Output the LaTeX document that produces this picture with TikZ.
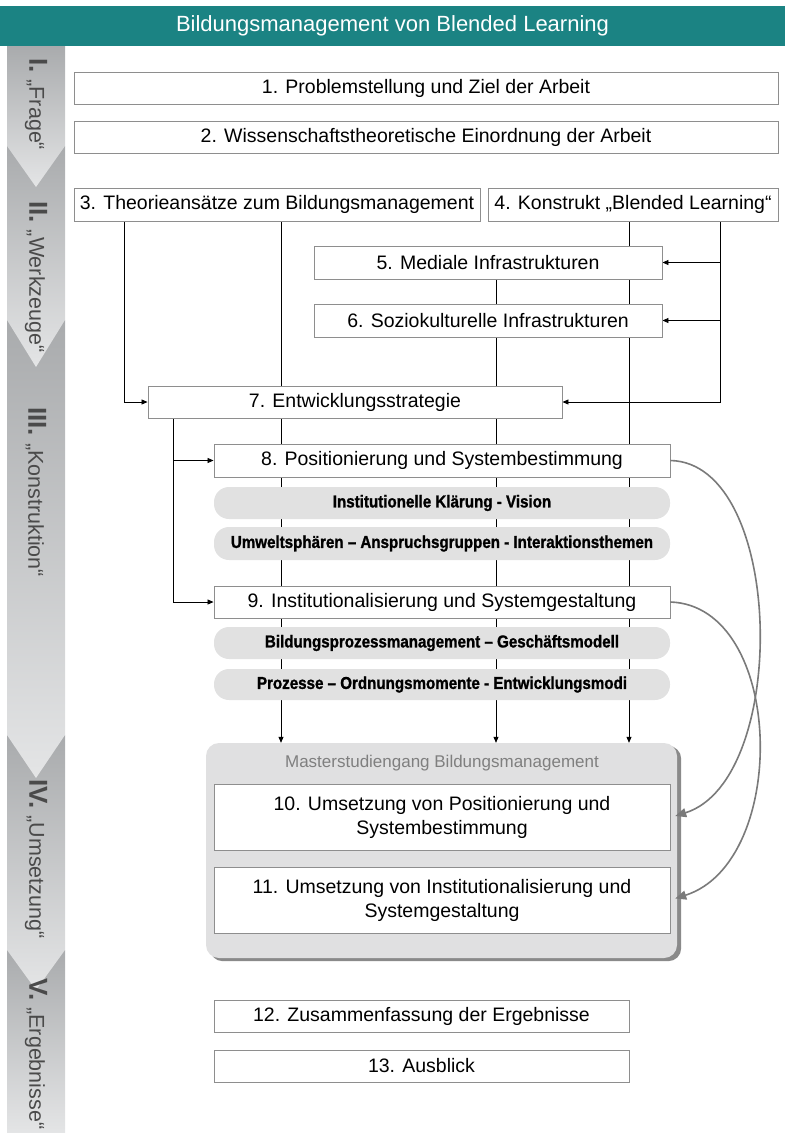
\documentclass[tikz,border=0pt]{standalone}
\usepackage{fontspec}
\setmainfont{Liberation Sans}
\newfontfamily\pillfont{Liberation Sans}[FakeStretch=0.88,BoldFeatures={FakeBold=1.2}]
\usetikzlibrary{arrows.meta,calc}
\pgfdeclarelayer{bg}
\pgfsetlayers{bg,main}
\definecolor{titleteal}{HTML}{1B8383}
\definecolor{boxgray}{HTML}{8E8E8E}
\definecolor{pillgray}{HTML}{E1E1E1}
\definecolor{mastergray}{HTML}{E0E0E1}
\definecolor{shadowgray}{HTML}{8A8A8A}
\definecolor{curvegray}{HTML}{7A7A7A}
\definecolor{stripdark}{HTML}{A9ABAD}
\definecolor{striplight}{HTML}{E4E5E6}
\definecolor{striptext}{HTML}{4A4A4A}
\definecolor{mtgray}{HTML}{7F7F7F}
\begin{document}
\begin{tikzpicture}[x=1pt,y=-1pt,
  box/.style={draw=boxgray,line width=0.9pt,fill=white,inner sep=0pt,font=\fontsize{19.5}{24}\selectfont,align=center},
  pill/.style={fill=pillgray,rounded corners=15pt,inner sep=0pt,font=\pillfont\fontsize{17.2}{18}\selectfont\bfseries},
  conn/.style={line width=0.8pt,black},
  arr/.style={conn,-{Triangle[length=6pt,width=5pt]}},
  curvearr/.style={line width=1.6pt,curvegray,-{Triangle[length=11pt,width=9pt]}},
  stripsec/.style={top color=stripdark,bottom color=striplight,draw=none},
  striplabel/.style={rotate=-90,anchor=west,text=striptext,inner sep=0pt,font=\fontsize{21.5}{22}\selectfont}]
\useasboundingbox (0,0) rectangle (785,1133);

% title bar
\node[fill=titleteal,minimum width=785pt,minimum height=40pt,inner sep=0pt,text=white,font=\fontsize{22}{22}\selectfont] (title) at (392.5,26) {Bildungsmanagement von Blended Learning};

% left strip (sections drawn bottom-up so each chevron overlays the next section)
\shade[stripsec] (7,950) rectangle (65,1133);
\shade[stripsec] (7,735) -- (65,735) -- (65,950) -- (36,990) -- (7,950) -- cycle;
\shade[stripsec] (7,320) -- (65,320) -- (65,735) -- (36,778) -- (7,735) -- cycle;
\shade[stripsec] (7,146) -- (65,146) -- (65,320) -- (36,367) -- (7,320) -- cycle;
\shade[stripsec] (7,46) -- (65,46) -- (65,146) -- (36,187) -- (7,146) -- cycle;

\node[striplabel] (s1) at (36,58) {{\fontsize{26}{26}\selectfont\bfseries I.}\hspace{7pt}„Frage“};
\node[striplabel] (s2) at (36,201) {{\fontsize{26}{26}\selectfont\bfseries II.}\hspace{7pt}„Werkzeuge“};
\node[striplabel] (s3) at (36,407) {{\fontsize{26}{26}\selectfont\bfseries III.}\hspace{7pt}„Konstruktion“};
\node[striplabel] (s4) at (36,779) {{\fontsize{26}{26}\selectfont\bfseries IV.}\hspace{7pt}„Umsetzung“};
\node[striplabel] (s5) at (36,978) {{\fontsize{26}{26}\selectfont\bfseries V.}\hspace{7pt}„Ergebnisse“};

% boxes
\node[box,minimum width=704pt,minimum height=32pt] (b1) at (426,88) {1. Problemstellung und Ziel der Arbeit};
\node[box,minimum width=704pt,minimum height=32pt] (b2) at (426,137) {2. Wissenschaftstheoretische Einordnung der Arbeit};
\node[box,minimum width=406pt,minimum height=33pt] (b3) at (277,204.5) {3. Theorieansätze zum Bildungsmanagement};
\node[box,minimum width=290pt,minimum height=33pt] (b4) at (633,204.5) {4. Konstrukt „Blended Learning“};
\node[box,minimum width=348pt,minimum height=33pt] (b5) at (488,262.5) {5. Mediale Infrastrukturen};
\node[box,minimum width=348pt,minimum height=33pt] (b6) at (488,320.5) {6. Soziokulturelle Infrastrukturen};
\node[box,minimum width=414pt,minimum height=32pt] (b7) at (355,402) {7. Entwicklungsstrategie};
\node[box,minimum width=456pt,minimum height=33pt] (b8) at (442,460.5) {8. Positionierung und Systembestimmung};
\node[pill,minimum width=456pt,minimum height=32pt] (pA) at (442,503) {Institutionelle Klärung - Vision};
\node[pill,minimum width=456pt,minimum height=33pt] (pB) at (442,543.5) {Umweltsphären – Anspruchsgruppen - Interaktionsthemen};
\node[box,minimum width=456pt,minimum height=32pt] (b9) at (442,602) {9. Institutionalisierung und Systemgestaltung};
\node[pill,minimum width=456pt,minimum height=32pt] (pC) at (442,643) {Bildungsprozessmanagement – Geschäftsmodell};
\node[pill,minimum width=456pt,minimum height=31pt] (pD) at (442,684.5) {Prozesse – Ordnungsmomente - Entwicklungsmodi};

\node[fill=mastergray,rounded corners=13pt,minimum width=471pt,minimum height=215pt,inner sep=0pt] (master) at (441.5,850.5) {};
\node[text=mtgray,inner sep=0pt,font=\fontsize{17}{17}\selectfont] (mt) at (442,763) {Masterstudiengang Bildungsmanagement};
\node[box,minimum width=456pt,minimum height=66pt] (b10) at (442,817.5) {10. Umsetzung von Positionierung und\\Systembestimmung};
\node[box,minimum width=456pt,minimum height=66pt] (b11) at (442,900) {11. Umsetzung von Institutionalisierung und\\Systemgestaltung};

\node[box,minimum width=415pt,minimum height=32pt] (b12) at (421.5,1016) {12. Zusammenfassung der Ergebnisse};
\node[box,minimum width=415pt,minimum height=32pt] (b13) at (421.5,1066) {13. Ausblick};

% x positions of vertical connectors
\coordinate (xA) at (124,0);
\coordinate (xB) at (281,0);
\coordinate (xC) at (496,0);
\coordinate (xD) at (629,0);
\coordinate (xE) at (720,0);
\coordinate (xF) at (173,0);

\begin{pgfonlayer}{bg}
\draw[arr] (b3.south -| xA) |- (b7.west);
\draw[conn] (b3.south -| xB) -- (b7.north -| xB);
\draw[arr] (b7.south -| xB) -- (master.north -| xB);
\draw[conn] (b5.south -| xC) -- (b6.north -| xC);
\draw[conn] (b6.south -| xC) -- (b7.north -| xC);
\draw[arr] (b7.south -| xC) -- (master.north -| xC);
\draw[arr] (b4.south -| xD) -- (master.north -| xD);
\draw[arr] (b4.south -| xE) |- (b7.east);
\draw[arr] (b5.east -| xE) -- (b5.east);
\draw[arr] (b6.east -| xE) -- (b6.east);
\draw[arr] (b7.south -| xF) |- (b8.west);
\draw[arr] (b7.south -| xF) |- (b9.west);
\fill[shadowgray,rounded corners=13pt] ($(master.north west)+(4,3)$) rectangle ($(master.south east)+(4,3)$);
\end{pgfonlayer}

% curved feedback arrows
\draw[curvearr,shorten >=5pt] (b8.east) .. controls (785,463) and (790,780) .. (b10.east);
\draw[curvearr,shorten >=5pt] (b9.east) .. controls (785,606) and (790,862) .. (b11.east);
\end{tikzpicture}
\end{document}
